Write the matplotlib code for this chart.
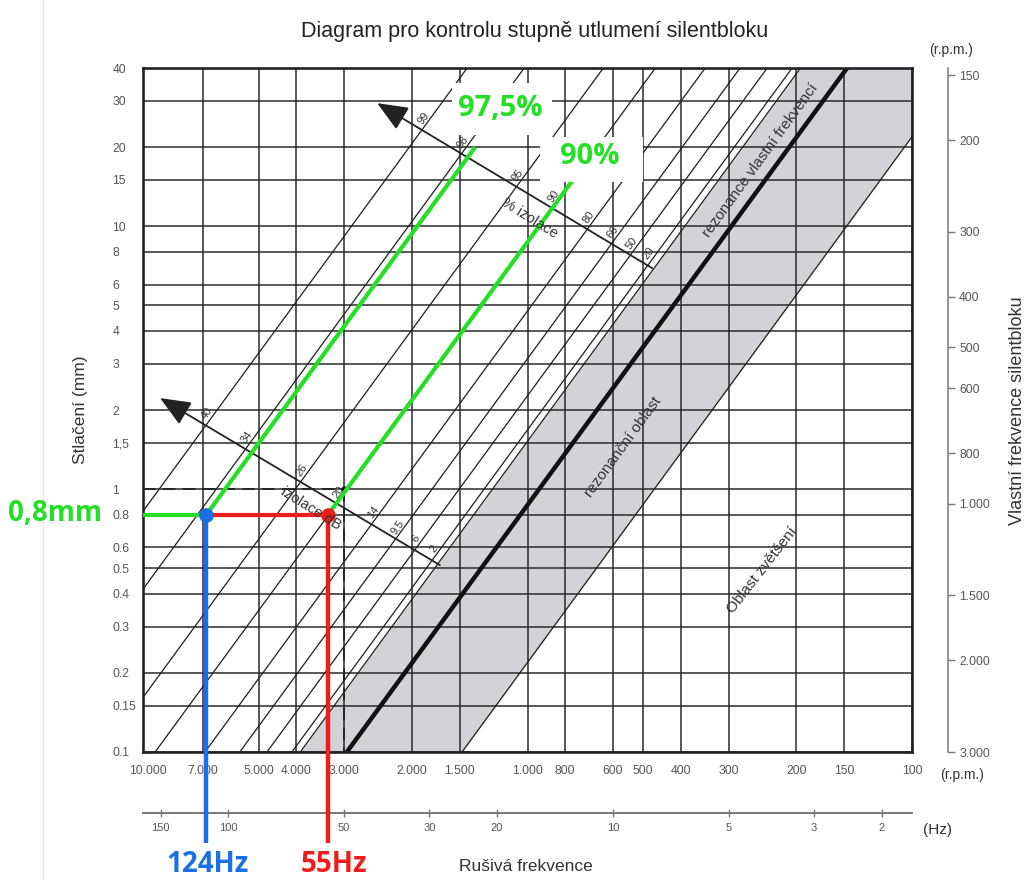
import numpy as np
import matplotlib
matplotlib.use('Agg')
import matplotlib.pyplot as plt
from matplotlib import font_manager as fm
from matplotlib.lines import Line2D
from matplotlib.patches import Rectangle
from matplotlib.ticker import NullLocator, NullFormatter
import matplotlib.transforms as mtransforms

# ---------------- data ----------------
deflection_ticks = [0.1, 0.15, 0.2, 0.3, 0.4, 0.5, 0.6, 0.8, 1, 1.5, 2, 3, 4, 5, 6, 8, 10, 15, 20, 30, 40]
deflection_labels = ['0.1', '0.15', '0.2', '0.3', '0.4', '0.5', '0.6', '0.8', '1', '1,5', '2', '3',
                     '4', '5', '6', '8', '10', '15', '20', '30', '40']
rpm_ticks = [10000, 7000, 5000, 4000, 3000, 2000, 1500, 1000, 800, 600, 500, 400, 300, 200, 150, 100]
rpm_labels = ['10.000', '7.000', '5.000', '4.000', '3.000', '2.000', '1.500', '1.000', '800', '600',
              '500', '400', '300', '200', '150', '100']
hz_ticks = [150, 100, 50, 30, 20, 10, 5, 3, 2]
hz_labels = ['150', '100', '50', '30', '20', '10', '5', '3', '2']
natfreq_ticks = [150, 200, 300, 400, 500, 600, 800, 1000, 1500, 2000, 3000]
natfreq_labels = ['150', '200', '300', '400', '500', '600', '800', '1.000', '1.500', '2.000', '3.000']

# isolation lines: disturbing frequency (rpm) where each line meets 0.1 mm deflection
iso_pct_labels = ['99', '98', '95', '90', '80', '66', '50', '20']
iso_db_labels = ['40', '34', '26', '20', '14', '9,5', '6', '2']
iso_rpm_at_01 = [28700, 20400, 12700, 9300, 6900, 5600, 4760, 4100]
zero_iso_rpm_at_01 = 3900       # 0 % isolation, left edge of resonance band
resonance_rpm_at_01 = 2950      # resonance line (thick)
band_right_rpm_at_01 = 1480     # right edge of resonance band

# worked example
example_deflection = 0.8
blue_hz = 114
red_hz = 55
green975_top_deflection = 20
green90_top_deflection = 15
ref_deflection = 1.0
ref_rpm = 3000
leg_bottom_deflection = 0.045

upper_arrow_tail = (474, 6.93)
upper_arrow_head = (2460, 29.4)
lower_arrow_tail = (1690, 0.514)
lower_arrow_head = (9030, 2.22)

# ---------------- fonts ----------------
names = {f.name for f in fm.fontManager.ttflist}
NARROW = 'Liberation Sans Narrow' if 'Liberation Sans Narrow' in names else 'Liberation Sans'
TFS = 9.5 if NARROW == 'Liberation Sans Narrow' else 8.8
plt.rcParams['font.family'] = ['Liberation Sans', 'DejaVu Sans']

W, H = 1026, 880
GREEN = '#24e024'
BLUE = '#1a6fe6'
RED = '#ee1c1c'
LINE = '#1e1e1e'
TXT = '#555555'


def line_rpm(f0, d):
    return f0 * np.sqrt(0.1 / np.asarray(d, dtype=float))


def fx(x):
    return x / W


def fy(y):
    return 1 - y / H


fig = plt.figure(figsize=(W / 100, H / 100), dpi=100)
ax = fig.add_axes([fx(143), 1 - 752 / H, 769 / W, 684 / H])
ax.set_xscale('log')
ax.set_yscale('log')
ax.set_xlim(10000, 100)
ax.set_ylim(0.1, 40)

ax.set_xticks(rpm_ticks, rpm_labels)
ax.set_yticks(deflection_ticks, deflection_labels)
ax.xaxis.set_minor_locator(NullLocator())
ax.yaxis.set_minor_locator(NullLocator())
ax.xaxis.set_minor_formatter(NullFormatter())
ax.yaxis.set_minor_formatter(NullFormatter())
ax.tick_params(axis='both', length=0, labelcolor=TXT)
ax.tick_params(axis='x', pad=9)
ax.tick_params(axis='y', pad=22)
for lab in ax.get_xticklabels() + ax.get_yticklabels():
    lab.set_fontfamily(NARROW)
    lab.set_fontsize(TFS)
for lab in ax.get_yticklabels():
    lab.set_horizontalalignment('left')
first = ax.get_xticklabels()[0]
first.set_transform(first.get_transform() +
                    mtransforms.ScaledTranslation(0.05, 0, fig.dpi_scale_trans))
ax.set_axisbelow(True)
ax.grid(True, which='major', color='#2a2a2a', lw=1.1)
for s in ax.spines.values():
    s.set_linewidth(1.9)
    s.set_color('#222222')

dd = np.array([0.1, 40.0])
# resonance band
ax.fill_betweenx(dd, line_rpm(zero_iso_rpm_at_01, dd), line_rpm(band_right_rpm_at_01, dd),
                 color='#d3d3d7', lw=0, zorder=0.3)
# thin isolation lines
for f0 in iso_rpm_at_01 + [zero_iso_rpm_at_01, band_right_rpm_at_01]:
    ax.plot(line_rpm(f0, dd), dd, color=LINE, lw=0.9, zorder=1.2)
# resonance line
ax.plot(line_rpm(resonance_rpm_at_01, dd), dd, color='#111111', lw=3.2, zorder=2,
        solid_capstyle='butt')

# arrows
for tail, head in [(upper_arrow_tail, upper_arrow_head), (lower_arrow_tail, lower_arrow_head)]:
    ax.annotate('', xy=head, xytext=tail,
                arrowprops=dict(arrowstyle='-|>,head_length=1.0,head_width=0.42',
                                mutation_scale=19, lw=1.3, color='#222222',
                                shrinkA=0, shrinkB=0), zorder=3)


def arrow_crossing(f0, tail, head):
    ua, va = np.log10(tail)
    ub, vb = np.log10(head)
    c = np.log10(f0) - 0.5
    t = (c - ua - 0.5 * va) / ((ub - ua) + 0.5 * (vb - va))
    return 10 ** (ua + t * (ub - ua)), 10 ** (va + t * (vb - va))


for f0, lp, ldb in zip(iso_rpm_at_01, iso_pct_labels, iso_db_labels):
    for tail, head, lab in [(upper_arrow_tail, upper_arrow_head, lp),
                            (lower_arrow_tail, lower_arrow_head, ldb)]:
        px, py = arrow_crossing(f0, tail, head)
        ax.annotate(lab, xy=(px, py), xytext=(1, 8.5), textcoords='offset points',
                    rotation=54, rotation_mode='anchor', ha='center', va='center',
                    fontsize=8, color='#333333', fontfamily=NARROW, zorder=3)

# dashed reference
ax.plot([10000, ref_rpm], [ref_deflection, ref_deflection], color='#222222', lw=1.3,
        ls=(0, (7, 4)), zorder=3)
ax.plot([ref_rpm, ref_rpm], [ref_deflection, 0.1], color='#222222', lw=1.3,
        ls=(0, (7, 4)), zorder=3)
ax.plot([ref_rpm], [ref_deflection], marker='o', ms=3.5, color='#111111', zorder=3)

# worked example
blue_rpm = blue_hz * 60
red_rpm = red_hz * 60
ax.plot([10000, blue_rpm], [example_deflection] * 2, color=GREEN, lw=3.0, zorder=5,
        solid_capstyle='butt')
g1 = np.array([example_deflection, green975_top_deflection])
ax.plot(line_rpm(blue_rpm * np.sqrt(example_deflection / 0.1), g1), g1, color=GREEN, lw=3.0,
        zorder=5, solid_capstyle='butt')
g2 = np.array([example_deflection, green90_top_deflection])
ax.plot(line_rpm(red_rpm * np.sqrt(example_deflection / 0.1), g2), g2, color=GREEN, lw=3.0,
        zorder=5, solid_capstyle='butt')
ax.plot([blue_rpm, red_rpm], [example_deflection] * 2, color=RED, lw=3.0, zorder=5)
ax.plot([red_rpm, red_rpm], [example_deflection, leg_bottom_deflection], color=RED, lw=3.2,
        zorder=5, clip_on=False, solid_capstyle='butt')
ax.plot([blue_rpm, blue_rpm], [example_deflection, leg_bottom_deflection], color=BLUE, lw=3.2,
        zorder=5, clip_on=False, solid_capstyle='butt')
ax.plot([blue_rpm], [example_deflection], 'o', ms=9.5, color=BLUE, zorder=6, clip_on=False)
ax.plot([red_rpm], [example_deflection], 'o', ms=9.5, color=RED, zorder=6, clip_on=False)

# right axis: natural frequency
ax2 = ax.twinx()
ax2.set_yscale('log')
ax2.set_ylim(3000, 145.4)
ax2.set_yticks(natfreq_ticks, natfreq_labels)
ax2.yaxis.set_minor_locator(NullLocator())
ax2.yaxis.set_minor_formatter(NullFormatter())
for s in ['top', 'bottom', 'left']:
    ax2.spines[s].set_visible(False)
ax2.spines['right'].set_position(('outward', 26))
ax2.spines['right'].set_color('#777777')
ax2.spines['right'].set_linewidth(1.1)
ax2.tick_params(axis='y', direction='out', length=5, width=1.0, color='#777777',
                labelcolor=TXT, pad=3)
for lab in ax2.get_yticklabels():
    lab.set_fontfamily(NARROW)
    lab.set_fontsize(TFS)

# Hz axis
secx = ax.secondary_xaxis(-0.0892, functions=(lambda r: r / 60.0, lambda h: h * 60.0))
secx.set_xticks(hz_ticks, hz_labels)
secx.xaxis.set_minor_locator(NullLocator())
secx.xaxis.set_minor_formatter(NullFormatter())
secx.spines['bottom'].set_color('#777777')
secx.spines['bottom'].set_linewidth(1.4)
secx.tick_params(axis='x', direction='inout', length=6, width=1.0, color='#777777',
                 labelcolor=TXT, pad=4)
for lab in secx.get_xticklabels():
    lab.set_fontfamily(NARROW)
    lab.set_fontsize(TFS - 0.8)

# ---------------- texts ----------------
fig.add_artist(Line2D([fx(43), fx(43)], [0, 1], color='#e8e8e8', lw=1.0))
fig.text(fx(535), fy(32), 'Diagram pro kontrolu stupně utlumení silentbloku', ha='center',
         va='center', fontsize=15.5, color='#222222')
fig.text(fx(80), fy(410), 'Stlačení (mm)', rotation=90, ha='center', va='center',
         fontsize=12.5, color='#333333')
fig.text(fx(1018), fy(411), 'Vlastní frekvence silentbloku', rotation=90, ha='center',
         va='center', fontsize=13, color='#333333')
fig.text(fx(526), fy(866), 'Rušivá frekvence', ha='center', va='center', fontsize=12.5,
         color='#333333')
fig.text(fx(951), fy(50), '(r.p.m.)', ha='center', va='center', fontsize=10, color='#333333')
fig.text(fx(962), fy(775), '(r.p.m.)', ha='center', va='center', fontsize=10, color='#333333')
fig.text(fx(937), fy(830), '(Hz)', ha='center', va='center', fontsize=11, color='#333333')

fig.text(fx(530), fy(218), '% izolace', rotation=-32, rotation_mode='anchor', ha='center',
         va='center', fontsize=10.5, color='#333333', fontfamily=NARROW)
fig.text(fx(311), fy(509), 'izolace dB', rotation=-32, rotation_mode='anchor', ha='center',
         va='center', fontsize=10.5, color='#333333', fontfamily=NARROW)
fig.text(fx(760), fy(160), 'rezonance vlastní frekvencí', rotation=54, rotation_mode='anchor',
         ha='center', va='center', fontsize=11, color='#333333', fontfamily=NARROW)
fig.text(fx(623), fy(447), 'rezonanční oblast', rotation=54, rotation_mode='anchor',
         ha='center', va='center', fontsize=11, color='#333333', fontfamily=NARROW)
fig.text(fx(762), fy(570), 'Oblast zvětšení', rotation=52, rotation_mode='anchor',
         ha='center', va='center', fontsize=11, color='#333333', fontfamily=NARROW)

# white label boxes
fig.add_artist(Rectangle((fx(452), fy(135)), 100 / W, 52 / H, transform=fig.transFigure,
                         facecolor='white', edgecolor='none', zorder=2.5))
fig.add_artist(Rectangle((fx(540), fy(182)), 103 / W, 45 / H, transform=fig.transFigure,
                         facecolor='white', edgecolor='none', zorder=2.5))
bold = dict(fontfamily=['Open Sans', 'DejaVu Sans'], fontweight='bold', ha='center', va='center')
fig.text(fx(500), fy(109), '97,5%', fontsize=21, color=GREEN, zorder=4, **bold)
fig.text(fx(590), fy(156), '90%', fontsize=21, color=GREEN, zorder=4, **bold)
fig.text(fx(55), fy(513), '0,8mm', fontsize=20, color=GREEN, zorder=4, **bold)
fig.text(fx(208), fy(864), '124Hz', fontsize=20, color=BLUE, zorder=4, **bold)
fig.text(fx(334), fy(864), '55Hz', fontsize=20, color=RED, zorder=4, **bold)

fig.savefig('out.png', dpi=100)
